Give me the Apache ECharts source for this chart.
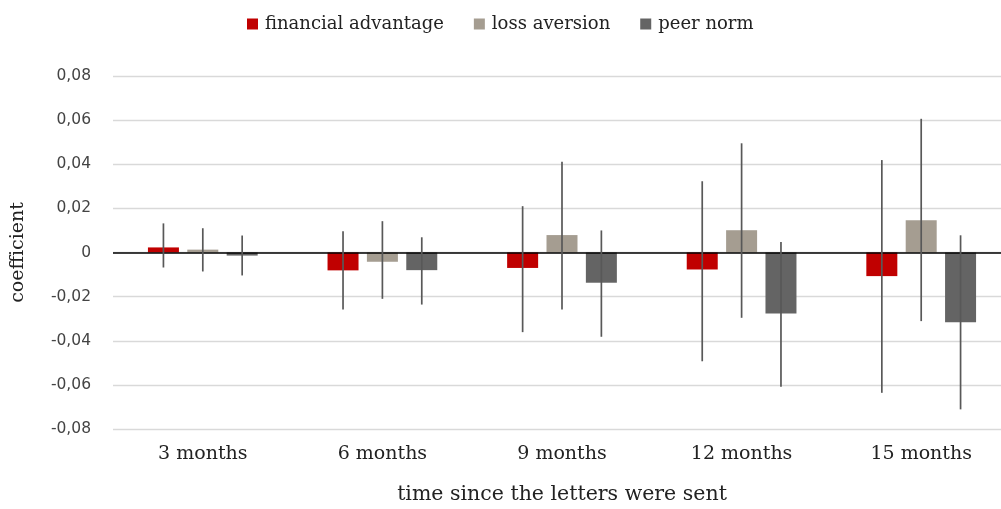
<!DOCTYPE html>
<html>
<head>
<meta charset="utf-8">
<script src="https://cdn.jsdelivr.net/npm/echarts@6/dist/echarts.min.js"></script>
<style>
  html, body { margin: 0; padding: 0; background: #fff; }
  #chart { width: 1001px; height: 509px; }
</style>
</head>
<body>
<div id="chart"></div>
<script>
// Categories and regression coefficients with 95% confidence intervals
const categories = ['3 months', '6 months', '9 months', '12 months', '15 months'];
const seriesNames = ['financial advantage', 'loss aversion', 'peer norm'];

const financialAdvantage = [0.0023, -0.0081, -0.0070, -0.0077, -0.0107];
const financialAdvantageLow = [-0.0068, -0.0258, -0.0361, -0.0493, -0.0636];
const financialAdvantageHigh = [0.0132, 0.0096, 0.0210, 0.0323, 0.0419];

const lossAversion = [0.0013, -0.0042, 0.0079, 0.0101, 0.0146];
const lossAversionLow = [-0.0086, -0.0210, -0.0258, -0.0296, -0.0311];
const lossAversionHigh = [0.0110, 0.0142, 0.0411, 0.0495, 0.0606];

const peerNorm = [-0.0014, -0.0080, -0.0137, -0.0276, -0.0316];
const peerNormLow = [-0.0104, -0.0236, -0.0382, -0.0609, -0.0711];
const peerNormHigh = [0.0077, 0.0069, 0.0100, 0.0048, 0.0078];

const yTicks = { min: -0.08, max: 0.08, interval: 0.02 };

const colors = ['#C00000', '#A59D91', '#646464'];
const BAR_WIDTH = 31;
const BAR_GAP = 0.27;

const values = [financialAdvantage, lossAversion, peerNorm];
const lows = [financialAdvantageLow, lossAversionLow, peerNormLow];
const highs = [financialAdvantageHigh, lossAversionHigh, peerNormHigh];

const serif = '"DejaVu Serif", "Liberation Serif", serif';
const sans = '"DejaVu Sans", "Liberation Sans", sans-serif';

// Vertical confidence-interval whiskers, centred on each bar of series k
function errorBarSeries(k) {
  const offset = (k - 1) * BAR_WIDTH * (1 + BAR_GAP);
  return {
    type: 'custom',
    name: seriesNames[k] + ' CI',
    z: 5,
    silent: true,
    data: categories.map((c, i) => [i, lows[k][i], highs[k][i]]),
    renderItem: function (params, api) {
      const lo = api.coord([api.value(0), api.value(1)]);
      const hi = api.coord([api.value(0), api.value(2)]);
      const x = lo[0] + offset;
      return {
        type: 'line',
        shape: { x1: x, y1: lo[1], x2: x, y2: hi[1] },
        style: { stroke: '#585858', lineWidth: 1.7 }
      };
    }
  };
}

const barSeries = seriesNames.map((name, k) => ({
  type: 'bar',
  name: name,
  data: values[k],
  barWidth: BAR_WIDTH,
  barGap: (BAR_GAP * 100) + '%',
  itemStyle: { color: colors[k] },
  z: 2
}));

// Zero reference line
barSeries[0].markLine = {
  silent: true,
  symbol: ['none', 'none'],
  label: { show: false },
  lineStyle: { color: '#000', width: 1.5, type: 'solid' },
  data: [{ yAxis: 0 }],
  z: 4
};

const chart = echarts.init(document.getElementById('chart'), null, { renderer: 'canvas' });
chart.setOption({
  animation: false,
  backgroundColor: '#fff',
  color: colors,
  legend: {
    data: seriesNames,
    top: 10,
    left: 242,
    itemWidth: 11,
    itemHeight: 11,
    itemGap: 30,
    icon: 'rect',
    textStyle: { fontFamily: serif, fontSize: 18, color: '#222', padding: [0, 0, 0, 2] }
  },
  grid: { left: 113, width: 898, top: 76, height: 353, containLabel: false, outerBoundsMode: 'none' },
  xAxis: {
    type: 'category',
    data: categories,
    axisLine: { show: false, onZero: false },
    axisTick: { show: false },
    axisLabel: { fontFamily: serif, fontSize: 19, color: '#222', margin: 16 },
    name: 'time since the letters were sent',
    nameLocation: 'middle',
    nameGap: 55,
    nameTextStyle: { fontFamily: serif, fontSize: 20.5, color: '#222' }
  },
  yAxis: {
    type: 'value',
    min: yTicks.min,
    max: yTicks.max,
    interval: yTicks.interval,
    axisLine: { show: false },
    axisTick: { show: false },
    splitLine: { lineStyle: { color: '#D9D9D9', width: 1.3 } },
    axisLabel: {
      fontFamily: sans,
      fontSize: 15.5,
      color: '#444',
      margin: 22,
      formatter: function (v) {
        if (Math.abs(v) < 1e-9) return '0';
        return v.toFixed(2).replace('.', ',');
      }
    },
    name: 'coefficient',
    nameLocation: 'middle',
    nameGap: 85,
    nameRotate: 90,
    nameTextStyle: { fontFamily: serif, fontSize: 19, color: '#222' }
  },
  series: barSeries.concat([0, 1, 2].map(errorBarSeries))
});
</script>
</body>
</html>
